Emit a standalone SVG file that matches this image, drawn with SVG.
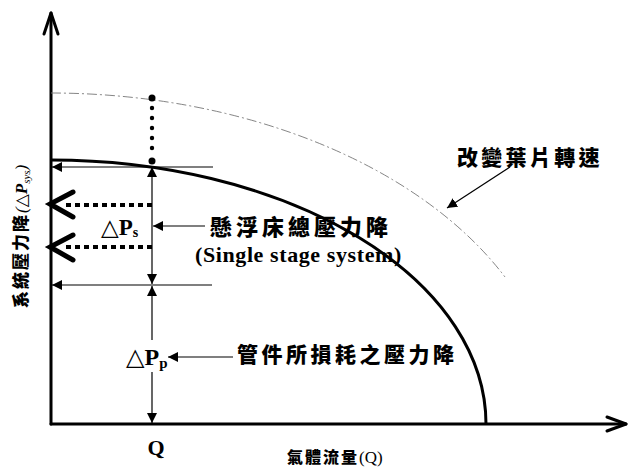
<svg xmlns="http://www.w3.org/2000/svg" width="629" height="468" viewBox="0 0 629 468">
<defs>
<style>
.ax{fill:none;stroke:#000;stroke-width:3;stroke-linecap:round;stroke-linejoin:round}
.thin{fill:none;stroke:#000;stroke-width:1.2}
.cjk{font-family:"Noto Sans CJK TC","Noto Sans CJK SC",sans-serif;font-weight:900;fill:#000}
.ser{font-family:"Liberation Serif","DejaVu Serif",serif;font-weight:bold;fill:#000}
.chev{fill:none;stroke:#000;stroke-width:5;stroke-linecap:round;stroke-linejoin:miter}
.sqdot{fill:none;stroke:#000;stroke-width:4;stroke-dasharray:5 4}
</style>
<marker id="ah" viewBox="0 0 10 10" refX="10" refY="5" markerWidth="10" markerHeight="10" markerUnits="userSpaceOnUse" orient="auto">
<path d="M0,0 L10,5 L0,10 z" fill="#000"/>
</marker>
</defs>
<rect width="629" height="468" fill="#fff"/>

<g id="axes">
<path class="ax" d="M51,424 L51,13"/>
<path class="ax" d="M44,34 L51,13 L58,34"/>
<path class="ax" d="M51,424 L626,424"/>
<path class="ax" d="M607,417 L626,424 L607,431"/>
</g>

<g id="curves">
<path d="M51,93 A508 331 0 0 1 505,277" fill="none" stroke="#777" stroke-width="0.9" stroke-dasharray="10 3 2 3"/>
<path d="M51,160 A435 264 0 0 1 486,424" fill="none" stroke="#000" stroke-width="3"/>
</g>

<g id="connectors">
<line class="thin" x1="213" y1="167" x2="52" y2="167" marker-end="url(#ah)"/>
<line class="thin" x1="212" y1="285" x2="52" y2="285" marker-end="url(#ah)"/>
<line class="thin" x1="152" y1="226" x2="152" y2="167" marker-end="url(#ah)"/>
<line class="thin" x1="152" y1="226" x2="152" y2="284" marker-end="url(#ah)"/>
<line class="thin" x1="152" y1="340" x2="152" y2="286" marker-end="url(#ah)"/>
<line class="thin" x1="152" y1="372" x2="152" y2="423" marker-end="url(#ah)"/>
<line class="thin" x1="205" y1="226" x2="153" y2="226" marker-end="url(#ah)"/>
<line class="thin" x1="233" y1="357" x2="168" y2="357" marker-end="url(#ah)"/>
<line class="thin" x1="510" y1="167" x2="447" y2="208" marker-end="url(#ah)"/>
<line class="sqdot" x1="152" y1="205" x2="65" y2="205"/>
<line class="sqdot" x1="152" y1="247" x2="65" y2="247"/>
<path class="chev" d="M73,192 L50,204 L73,217"/>
<path class="chev" d="M73,235 L50,247 L73,260"/>
<g id="dots" fill="#000">
<circle cx="152" cy="98" r="3.5"/>
<circle cx="152" cy="108" r="2.2"/>
<circle cx="152" cy="118" r="2.2"/>
<circle cx="152" cy="128" r="2.2"/>
<circle cx="152" cy="138" r="2.2"/>
<circle cx="152" cy="148" r="2.2"/>
<circle cx="152" cy="161" r="3.5"/>
</g>
</g>

<g id="label-ps">
<text class="ser" x="101" y="235" font-size="23">△P<tspan font-size="14" dy="2">s</tspan></text>
</g>
<g id="label-pp">
<text class="ser" x="126" y="365" font-size="24">△P<tspan font-size="15" dy="3">p</tspan></text>
</g>
<g id="label-bed">
<text class="cjk" x="210" y="235" font-size="22" letter-spacing="4">懸浮床總壓力降</text>
<text class="ser" x="195" y="262" font-size="22" letter-spacing="0.6">(Single stage system)</text>
</g>
<g id="label-pipe">
<text class="cjk" x="237" y="362" font-size="21" letter-spacing="3.5">管件所損耗之壓力降</text>
</g>
<g id="label-speed">
<text class="cjk" x="457" y="165" font-size="21" letter-spacing="3.3">改變葉片轉速</text>
</g>
<g id="label-q">
<text class="ser" x="156" y="455" font-size="22" text-anchor="middle">Q</text>
</g>
<g id="label-xaxis">
<text x="287" y="463" font-size="16"><tspan class="cjk" letter-spacing="2">氣體流量</tspan><tspan font-family="Liberation Serif,serif" font-size="17">(Q)</tspan></text>
</g>
<g id="label-yaxis">
<text transform="translate(27,308) rotate(-90)" font-size="17"><tspan class="cjk" letter-spacing="2">系統壓力降</tspan><tspan font-family="Liberation Serif,DejaVu Serif,serif" font-style="italic">(△<tspan font-weight="bold">P</tspan><tspan font-size="11" dy="3">sys</tspan><tspan dy="-3">)</tspan></tspan></text>
</g>
</svg>
